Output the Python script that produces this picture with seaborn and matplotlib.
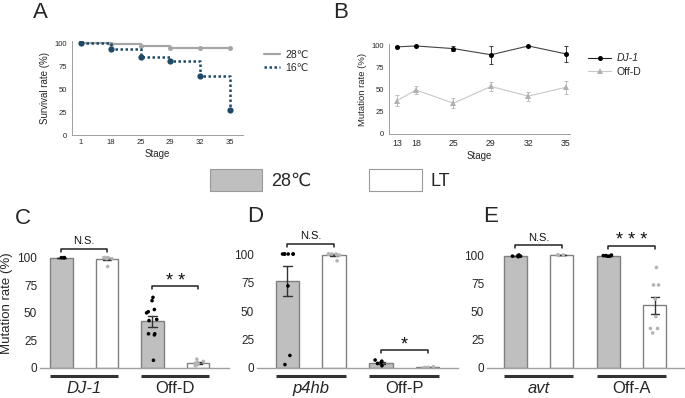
import numpy as np
import pandas as pd
import matplotlib
matplotlib.use("Agg")
import matplotlib.pyplot as plt
import seaborn as sns
from matplotlib.patches import Patch
from matplotlib.lines import Line2D

sns.set_theme(style="white")
plt.rcParams["font.family"] = ["Liberation Sans", "DejaVu Sans"]

# ---------------- data ----------------
A_stages = ["1", "18", "25", "29", "32", "35"]
A_28 = [100, 99, 97, 95, 95, 95]
A_16 = [100, 94, 85, 81, 64, 27]

B_stages = ["13", "18", "25", "29", "32", "35"]
B_dj1 = [99, 100, 97, 90, 100, 91]
B_dj1_err = [1, 0.5, 3, 10, 0.5, 9]
B_offd = [38, 50, 35, 54, 43, 53]
B_offd_err = [6, 4, 6, 5, 5, 7]

conditions = ["28℃", "LT"]

C_genes = ["DJ-1", "Off-D"]
C_dj1_28 = [100, 100, 100]
C_dj1_lt = [100, 100, 100, 99, 99, 100, 92]
C_offd_28 = [64, 61, 53, 51, 50, 44, 43, 31, 31, 30, 7]
C_offd_lt = [8, 6, 5, 4, 4, 3, 2]

D_genes = ["p4hb", "Off-P"]
D_p4hb_28 = [100, 100, 100, 100, 100, 100, 72, 11, 3]
D_p4hb_lt = [100, 100, 100, 99, 100, 99, 94]
D_offp_28 = [7, 6, 5, 4, 2]
D_offp_lt = [1, 0.5, 0.5, 0, 0.5]

E_genes = ["avt", "Off-A"]
E_avt_28 = [99, 99.5, 100, 99, 98.5]
E_avt_lt = [100, 100, 100]
E_offa_28 = [99, 99.5, 100, 99.5, 99]
E_offa_lt = [89, 73.5, 73.5, 61, 45.5, 35, 35, 31]

sig_C = ["N.S.", "* *"]
sig_D = ["N.S.", "*"]
sig_E = ["N.S.", "* * *"]

# ---------------- figure ----------------
W, H = 685, 398
fig = plt.figure(figsize=(W / 100, H / 100), dpi=100)


def px_axes(l, t, r, b):
    return fig.add_axes([l / W, 1 - b / H, (r - l) / W, (b - t) / H])


GRAY_BAR = "#bfbfbf"
EDGE = "#808080"
NAVY = "#1d4a66"
LGRAY = "#a6a6a6"

# ---------- Panel A ----------
axA = px_axes(72, 41.2, 243, 135)
xA = np.arange(len(A_stages))
sns.lineplot(x=xA, y=A_28, ax=axA, color=LGRAY, lw=1.6, marker="o", markersize=3.6,
             markeredgewidth=0, drawstyle="steps-post")
sns.lineplot(x=xA, y=A_16, ax=axA, color=NAVY, lw=1.8, linestyle=(0, (1, 1)),
             marker="o", markersize=4.5, markeredgewidth=0, drawstyle="steps-post")
axA.set_xlim(-0.3, 5.44)
axA.set_ylim(0, 102)
axA.set_xticks(xA)
axA.set_xticklabels(A_stages)
axA.set_yticks([0, 25, 50, 75, 100])
axA.tick_params(labelsize=5.5, length=2, width=0.6, color="#a0a0a0", pad=1.5)
axA.tick_params(axis="x", length=0, pad=3)
for s in ["top", "right"]:
    axA.spines[s].set_visible(False)
for s in ["left", "bottom"]:
    axA.spines[s].set_color("#a0a0a0")
    axA.spines[s].set_linewidth(0.7)
axA.set_xlabel("Stage", fontsize=7, labelpad=2)
axA.set_ylabel("Survival rate (%)", fontsize=7, labelpad=3)
hA = [Line2D([], [], color=LGRAY, lw=1.6),
      Line2D([], [], color=NAVY, lw=1.8, linestyle=(0, (1, 1)))]
axA.legend(hA, ["28℃", "16℃"], loc="upper left", bbox_to_anchor=(1.12, 0.91),
           frameon=False, fontsize=7.5, handlelength=1.6, handletextpad=0.5,
           borderpad=0, borderaxespad=0, labelspacing=0.3)

# ---------- Panel B ----------
axB = px_axes(389, 44.2, 570, 134)
xB = [0.5, 1, 2, 3, 4, 5]
axB.errorbar(xB, B_offd, yerr=B_offd_err, fmt="none", ecolor="#bdbdbd",
             elinewidth=0.7, capsize=1.5, capthick=0.7)
sns.lineplot(x=xB, y=B_offd, ax=axB, color="#c8c8c8", lw=0.8, marker="^",
             markersize=3.8, markerfacecolor="#b0b0b0", markeredgewidth=0)
axB.errorbar(xB, B_dj1, yerr=B_dj1_err, fmt="none", ecolor="#222222",
             elinewidth=0.6, capsize=1.5, capthick=0.6)
sns.lineplot(x=xB, y=B_dj1, ax=axB, color="#444444", lw=0.8, marker="o",
             markersize=3.6, markerfacecolor="black", markeredgewidth=0)
axB.set_xlim(0.28, 5.11)
axB.set_ylim(0, 102)
axB.set_xticks(xB)
axB.set_xticklabels(B_stages)
axB.set_yticks([0, 25, 50, 75, 100])
axB.tick_params(labelsize=6.3, length=2, width=0.6, color="#a0a0a0", pad=1.5)
axB.tick_params(axis="y", labelsize=5.5)
for s in ["top", "right"]:
    axB.spines[s].set_visible(False)
for s in ["left", "bottom"]:
    axB.spines[s].set_color("#a0a0a0")
    axB.spines[s].set_linewidth(0.7)
axB.set_xlabel("Stage", fontsize=7, labelpad=2)
axB.set_ylabel("Mutation rate (%)", fontsize=6.8, labelpad=3)
hB = [Line2D([], [], color="#222222", lw=0.8, marker="o", markersize=3.6,
             markerfacecolor="black", markeredgewidth=0),
      Line2D([], [], color="#c8c8c8", lw=0.8, marker="^", markersize=3.8,
             markerfacecolor="#b0b0b0", markeredgewidth=0)]
legB = axB.legend(hB, ["DJ-1", "Off-D"], loc="upper left", bbox_to_anchor=(1.1, 0.9),
                  frameon=False, fontsize=7.5, handlelength=2.2, handletextpad=0.5,
                  borderpad=0, borderaxespad=0, labelspacing=0.35)
legB.get_texts()[0].set_style("italic")


# ---------- Bar panels ----------
def bar_panel(ax, genes, series, sigs, xlim, ylabel=None):
    rows = []
    order = []
    for gi, g in enumerate(genes):
        for ci, c in enumerate(conditions):
            key = f"{g}|{c}"
            order.append(key)
            for v in series[gi][ci]:
                rows.append({"cat": key, "cond": c, "val": v})
    df = pd.DataFrame(rows)
    sns.barplot(data=df, x="cat", y="val", hue="cond", order=order, hue_order=conditions,
                palette={"28℃": GRAY_BAR, "LT": "white"}, dodge=False, width=0.5,
                errorbar="se", capsize=0.18, edgecolor=EDGE, linewidth=1.0,
                err_kws={"color": "#333333", "linewidth": 1.0}, legend=False, ax=ax)
    sns.stripplot(data=df, x="cat", y="val", hue="cond", order=order, hue_order=conditions,
                  palette={"28℃": "black", "LT": "#b4b4b4"}, dodge=False, jitter=0.13,
                  size=2.6, linewidth=0, legend=False, ax=ax, zorder=3)
    ax.set_xlim(*xlim)
    ax.set_ylim(0, 118)
    ax.set_yticks([0, 25, 50, 75, 100])
    ax.set_xticks([0.5, 2.5])
    ax.set_xticklabels(genes)
    ax.get_xticklabels()[0].set_style("italic")
    ax.tick_params(axis="x", length=0, labelsize=12, pad=9.5)
    ax.tick_params(axis="y", length=0, labelsize=8.5, pad=2)
    for s in ["top", "right", "left"]:
        ax.spines[s].set_visible(False)
    ax.spines["bottom"].set_color("#a0a0a0")
    ax.spines["bottom"].set_linewidth(1.0)
    ax.set_xlabel("")
    ax.set_ylabel(ylabel if ylabel else "", fontsize=9.5, labelpad=3)
    tr = ax.get_xaxis_transform()
    for a, b in [(-0.25, 1.25), (1.75, 3.25)]:
        ax.plot([a, b], [-0.062, -0.062], transform=tr, color="#333333", lw=2.2,
                clip_on=False, solid_capstyle="butt")
    return ax


def bracket(ax, x1, x2, y, text, ty, fs):
    ax.plot([x1, x1, x2, x2], [y - 2.5, y, y, y - 2.5], color="#222222", lw=1.1,
            clip_on=False)
    ax.text((x1 + x2) / 2, ty, text, ha="center", va="center", fontsize=fs,
            color="#111111")


axC = px_axes(40, 237.8, 229, 368)
bar_panel(axC, C_genes, [[C_dj1_28, C_dj1_lt], [C_offd_28, C_offd_lt]], sig_C,
          (-0.47, 3.68), ylabel="Mutation rate (%)")
bracket(axC, 0, 1, 108, sig_C[0], 115.5, 8)
bracket(axC, 2, 3, 74, sig_C[1], 78, 13)

axD = px_axes(257, 233.5, 458, 368)
bar_panel(axD, D_genes, [[D_p4hb_28, D_p4hb_lt], [D_offp_28, D_offp_lt]], sig_D,
          (-0.65, 3.65))
bracket(axD, 0, 1, 108.8, sig_D[0], 115.5, 8)
bracket(axD, 2, 3, 15.8, sig_D[1], 20, 13)

axE = px_axes(487, 234.7, 684, 368)
bar_panel(axE, E_genes, [[E_avt_28, E_avt_lt], [E_offa_28, E_offa_lt]], sig_E,
          (-0.61, 3.63))
bracket(axE, 0, 1, 108.8, sig_E[0], 115.5, 8)
bracket(axE, 2, 3, 108.2, sig_E[1], 112.5, 13)

# top legend for bar panels
hL = [Patch(facecolor=GRAY_BAR, edgecolor="#9a9a9a", linewidth=0.8),
      Patch(facecolor="white", edgecolor="#9a9a9a", linewidth=0.8)]
fig.legend(hL, conditions, loc="center", bbox_to_anchor=(330 / W, 1 - 180 / H),
           ncol=2, frameon=False, fontsize=13, handlelength=2.9, handleheight=1.5,
           handletextpad=0.5, columnspacing=3.2, borderpad=0)

# panel letters
for lab, x, y in [("A", 33, 12), ("B", 333, 12), ("C", 15, 218), ("D", 247, 217),
                  ("E", 483, 217)]:
    fig.text(x / W, 1 - y / H, lab, fontsize=16, ha="left", va="center")

fig.savefig("out.png", dpi=100)
